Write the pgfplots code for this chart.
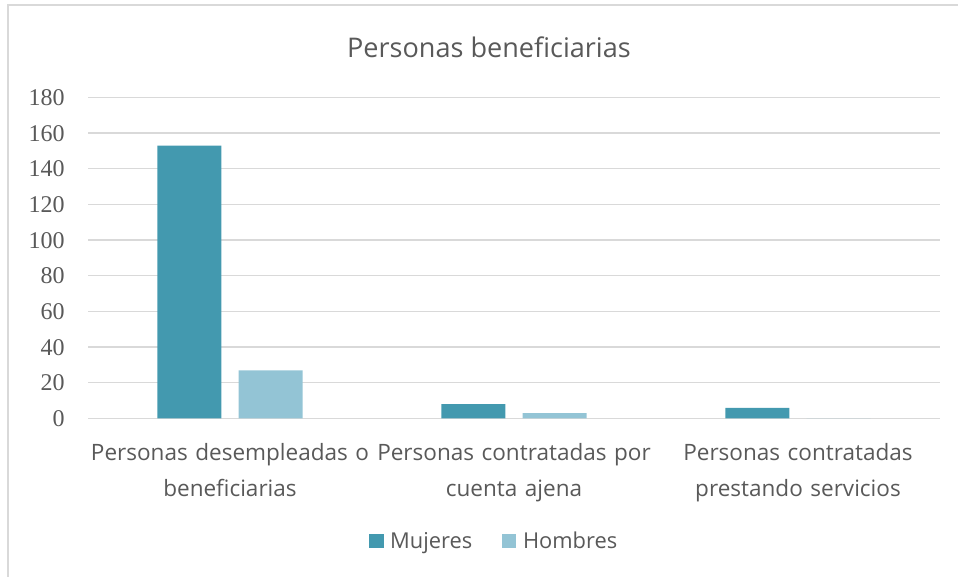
\documentclass[border=0pt]{standalone}
\usepackage{fontspec}
\setmainfont{Open Sans}
\newfontfamily\tickfont{Liberation Serif}
\usepackage{pgfplots}
\pgfplotsset{compat=1.18}
\definecolor{muj}{HTML}{4399AF}
\definecolor{hom}{HTML}{93C4D5}
\definecolor{txt}{HTML}{595959}
\definecolor{grd}{HTML}{D9D9D9}
\begin{document}
\begin{tikzpicture}[x=0.75pt,y=0.75pt]
\path[use as bounding box] (0,0) rectangle (958,577);
\draw[grd, line width=1pt] (8,0) -- (8,572) -- (958,572);
\node[txt, font=\fontsize{20.3}{24}\selectfont] at (489,530) {Personas beneficiarias};
\begin{axis}[
  at={(66pt,118.875pt)}, anchor=south west,
  scale only axis, width=639pt, height=240.75pt,
  ymin=0, ymax=180, ytick={0,20,...,180},
  xmin=-0.5, xmax=2.5,
  xtick={0,1,2},
  xticklabels={{Personas desempleadas o\\beneficiarias},{Personas contratadas por\\cuenta ajena},{Personas contratadas\\prestando servicios}},
  xticklabel style={align=center, text width=230pt, font=\fontsize{16.9}{27}\selectfont, color=txt, yshift=-15pt},
  /pgf/number format/assume math mode=true,
  yticklabel style={font=\tickfont\fontsize{18}{20}\selectfont, color=txt, xshift=-14pt},
  axis line style={draw=none},
  major tick length=0pt,
  ymajorgrids, grid style={grd, line width=1pt},
  ybar, bar width=48pt,
  legend style={at={(0.477,-0.382)}, anchor=center, draw=none, legend columns=2,
    font=\fontsize{16.4}{20}\selectfont, text=txt,
    /tikz/every odd column/.append style={column sep=3pt},
    /tikz/every even column/.append style={column sep=20pt}},
  legend image code/.code={\fill[#1] (0pt,-5.5pt) rectangle (11pt,5.5pt);},
]
\addplot[fill=muj, draw=none, bar shift=-30.4pt] coordinates {(0,153) (1,8) (2,6)};
\addplot[fill=hom, draw=none, bar shift=30.4pt] coordinates {(0,27) (1,3) (2,0)};
\legend{Mujeres, Hombres}
\end{axis}
\end{tikzpicture}
\end{document}
